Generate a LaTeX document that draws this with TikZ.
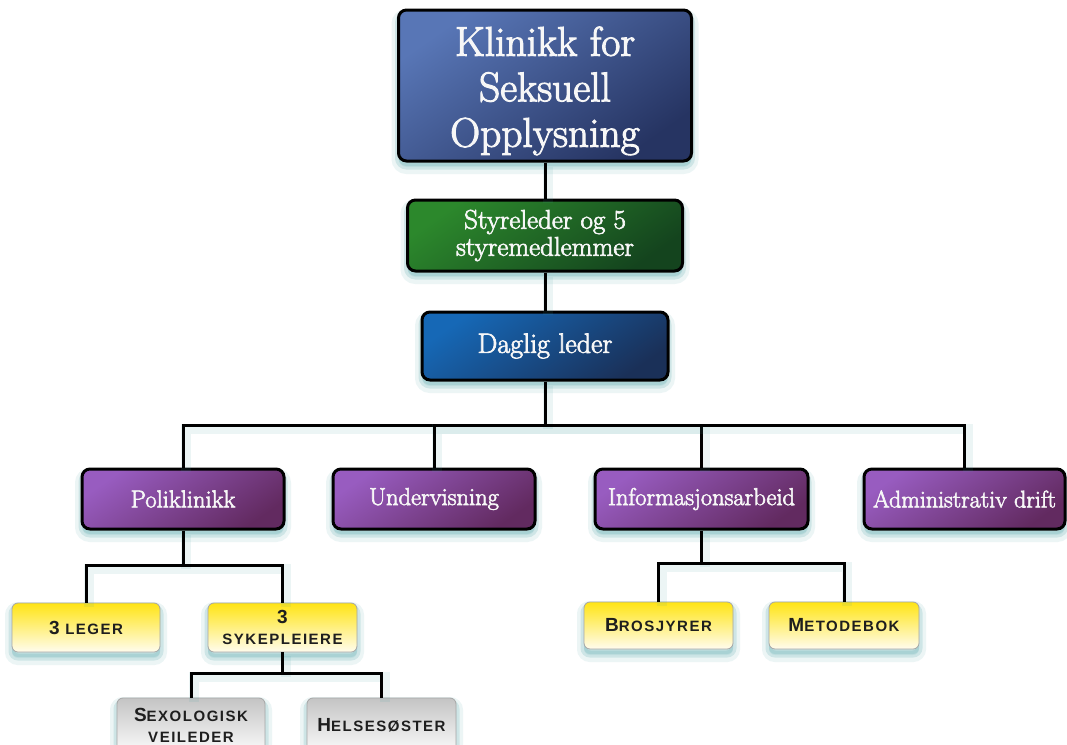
\documentclass[tikz,border=0pt]{standalone}
\usepackage{fontspec}
\newfontfamily\capsfont[LetterSpace=10]{Liberation Sans}
\newfontfamily\heavyserif[FakeBold=2.5]{Latin Modern Roman}
\definecolor{shc}{RGB}{70,160,165}
\definecolor{titA}{RGB}{88,118,182}
\definecolor{titB}{RGB}{38,52,98}
\definecolor{grnA}{RGB}{44,136,44}
\definecolor{grnB}{RGB}{20,68,30}
\definecolor{dagA}{RGB}{22,104,182}
\definecolor{dagB}{RGB}{26,48,88}
\definecolor{purA}{RGB}{152,92,192}
\definecolor{purB}{RGB}{98,42,96}
\definecolor{yelA}{RGB}{255,228,20}
\definecolor{yelB}{RGB}{255,252,238}
\definecolor{gryA}{RGB}{196,196,196}
\definecolor{gryB}{RGB}{250,250,250}
\definecolor{captext}{RGB}{30,30,30}
\newcommand\capL[1]{{\fontsize{19}{21}\selectfont #1}}
\begin{document}
\begin{tikzpicture}[x=1pt,y=-1pt,
  shad/.style={
    preaction={fill=shc, draw=shc, line width=14pt, opacity=0.10, transform canvas={yshift=-6pt}},
    preaction={fill=shc, draw=shc, line width=7pt, opacity=0.18, transform canvas={yshift=-5pt}}},
  darkbox/.style n args={4}{draw=black, line width=3pt, rounded corners=8pt,
    top color=#1, bottom color=#2, shading angle=35, text=white!94!gray,
    align=center, inner sep=0pt, minimum width=#3, minimum height=#4, shad},
  lightbox/.style n args={4}{draw=gray!70, line width=0.8pt, rounded corners=6pt,
    top color=#1, bottom color=#2, text=captext, align=center, inner sep=0pt,
    minimum width=#3, minimum height=#4, shad,
    font=\capsfont\bfseries\fontsize{15}{21}\selectfont},
  link/.style={draw=black, line width=3pt,
    preaction={draw=shc, line width=10pt, opacity=0.10, transform canvas={xshift=3pt,yshift=-4pt}}}
]
\useasboundingbox (0,0) rectangle (1067,744);
\fill[white] (0,0) rectangle (1067,744);

% nodes
\node[darkbox={titA}{titB}{293pt}{151pt}, font=\heavyserif\fontsize{41.5}{45.5}\selectfont]
  (top) at (545,85.5) {\rule{0pt}{40pt}Klinikk for\\Seksuell\\Opplysning};
\node[darkbox={grnA}{grnB}{275pt}{71pt}, font=\heavyserif\fontsize{27}{27}\selectfont]
  (styre) at (545,235.5) {Styreleder og 5\\styremedlemmer};
\node[darkbox={dagA}{dagB}{246pt}{68pt}, font=\heavyserif\fontsize{28}{30}\selectfont]
  (daglig) at (545,346) {Daglig leder};

\node[darkbox={purA}{purB}{202pt}{60pt}, font=\heavyserif\fontsize{24.5}{27}\selectfont]
  (poli) at (183,499) {Poliklinikk};
\node[darkbox={purA}{purB}{202pt}{60pt}, font=\heavyserif\fontsize{24.5}{27}\selectfont]
  (underv) at (434,499) {Undervisning};
\node[darkbox={purA}{purB}{213pt}{60pt}, font=\heavyserif\fontsize{24.5}{27}\selectfont]
  (info) at (701.5,499) {Informasjonsarbeid};
\node[darkbox={purA}{purB}{201pt}{60pt}, font=\heavyserif\fontsize{24}{27}\selectfont]
  (admin) at (964.5,499) {Administrativ drift};

\node[lightbox={yelA}{yelB}{148pt}{49pt}] (leger) at (86,627.5) {\capL{3} LEGER};
\node[lightbox={yelA}{yelB}{149pt}{49pt}] (syk) at (282.5,627.5) {\capL{3}\\SYKEPLEIERE};
\node[lightbox={yelA}{yelB}{149pt}{47pt}] (bros) at (658.5,625.5) {\capL{B}ROSJYRER};
\node[lightbox={yelA}{yelB}{150pt}{47pt}] (meto) at (844,625.5) {\capL{M}ETODEBOK};

\node[lightbox={gryA}{gryB}{148pt}{54pt}] (sexo) at (191,725) {\capL{S}EXOLOGISK\\VEILEDER};
\node[lightbox={gryA}{gryB}{149pt}{54pt}] (hels) at (381.5,725) {\capL{H}ELSESØSTER};

% junctions
\coordinate (bus) at (545,425);
\coordinate (pb) at (183,565);
\coordinate (ib) at (701.5,563);
\coordinate (sb) at (282.5,673);

% connectors
\draw[link] (top.south) -- (styre.north);
\draw[link] (styre.south) -- (daglig.north);
\draw[link] (daglig.south) -- (bus);
\draw[link] (bus) -| (poli.north);
\draw[link] (bus) -| (underv.north);
\draw[link] (bus) -| (info.north);
\draw[link] (bus) -| (admin.north);
\draw[link] (poli.south) -- (pb);
\draw[link] (pb) -| (leger.north);
\draw[link] (pb) -| (syk.north);
\draw[link] (info.south) -- (ib);
\draw[link] (ib) -| (bros.north);
\draw[link] (ib) -| (meto.north);
\draw[link] (syk.south) -- (sb);
\draw[link] (sb) -| (sexo.north);
\draw[link] (sb) -| (hels.north);
\end{tikzpicture}
\end{document}
